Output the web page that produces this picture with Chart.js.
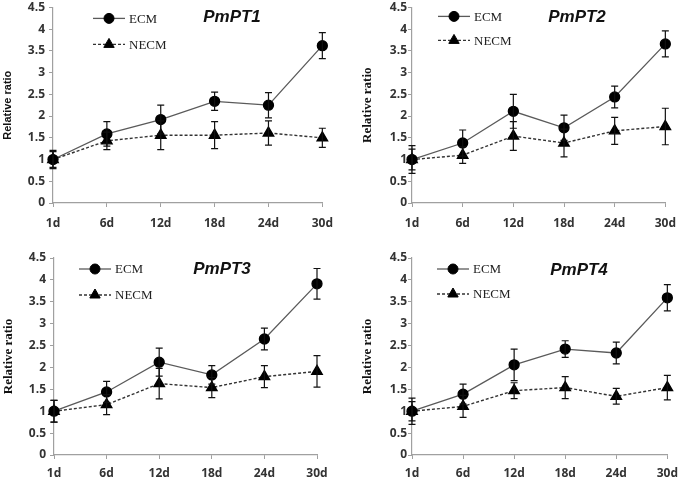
<!DOCTYPE html>
<html lang="en">
<head>
<meta charset="UTF-8">
<title>PmPT1-4 relative expression, ECM vs NECM</title>
<script src="https://cdn.jsdelivr.net/npm/chart.js"></script>
<style>
  *{box-sizing:border-box;margin:0;padding:0}
  body{background:#fff;width:685px;height:483px;position:relative;overflow:hidden}
  .panel{position:absolute}
  #p1{left:0;top:0;width:342px;height:240px}
  #p2{left:342px;top:0;width:343px;height:240px}
  #p3{left:0;top:240px;width:342px;height:243px}
  #p4{left:342px;top:240px;width:343px;height:243px}
</style>
</head>
<body>
<div class="panel" id="p1"><canvas id="c1"></canvas></div>
<div class="panel" id="p2"><canvas id="c2"></canvas></div>
<div class="panel" id="p3"><canvas id="c3"></canvas></div>
<div class="panel" id="p4"><canvas id="c4"></canvas></div>
<script>
// x categories (days after inoculation)
const days = ['1d', '6d', '12d', '18d', '24d', '30d'];
const seriesNames = ['ECM', 'NECM'];

// relative ratio + error
const pt1Ecm     = [1.00, 1.59, 1.92, 2.34, 2.25, 3.62];
const pt1EcmErr  = [0.21, 0.28, 0.33, 0.21, 0.29, 0.30];
const pt1Necm    = [1.00, 1.43, 1.56, 1.56, 1.61, 1.50];
const pt1NecmErr = [0.18, 0.20, 0.33, 0.31, 0.28, 0.22];

const pt2Ecm     = [1.00, 1.38, 2.11, 1.73, 2.44, 3.66];
const pt2EcmErr  = [0.32, 0.30, 0.39, 0.29, 0.25, 0.30];
const pt2Necm    = [1.00, 1.10, 1.54, 1.38, 1.66, 1.76];
const pt2NecmErr = [0.24, 0.19, 0.33, 0.32, 0.31, 0.42];

const pt3Ecm     = [1.00, 1.44, 2.12, 1.83, 2.65, 3.91];
const pt3EcmErr  = [0.25, 0.24, 0.32, 0.21, 0.25, 0.35];
const pt3Necm    = [1.00, 1.15, 1.63, 1.54, 1.79, 1.91];
const pt3NecmErr = [0.25, 0.23, 0.35, 0.23, 0.25, 0.36];

const pt4Ecm     = [1.00, 1.39, 2.06, 2.42, 2.33, 3.59];
const pt4EcmErr  = [0.30, 0.23, 0.36, 0.19, 0.25, 0.30];
const pt4Necm    = [1.00, 1.11, 1.47, 1.54, 1.34, 1.54];
const pt4NecmErr = [0.22, 0.25, 0.18, 0.25, 0.18, 0.28];

const SANS = '"Open Sans", sans-serif';
const SERIF = '"Liberation Serif", serif';

// per-panel layout (pixel offsets measured on the reference)
const panels = [
  {id:'c1', title:'PmPT1', ecm:pt1Ecm, ecmErr:pt1EcmErr, necm:pt1Necm, necmErr:pt1NecmErr,
   padTop:6, padRight:19, yWidth:53, xHeight:37, tickPad:4, xTickPad:9,
   yTitleFont:{family:'"Liberation Sans", sans-serif', size:11, weight:'bold'}, yTitlePad:1,
   legendDx:40, legendDy:[11,37], titleDx:179, titleDy:10},
  {id:'c2', title:'PmPT2', ecm:pt2Ecm, ecmErr:pt2EcmErr, necm:pt2Necm, necmErr:pt2NecmErr,
   padTop:6, padRight:11, yWidth:70, xHeight:37, tickPad:1, xTickPad:9,
   yTitleFont:{family:SERIF, size:13, weight:'bold'}, yTitlePad:18,
   legendDx:26, legendDy:[9,33], titleDx:165, titleDy:10},
  {id:'c3', title:'PmPT3', ecm:pt3Ecm, ecmErr:pt3EcmErr, necm:pt3Necm, necmErr:pt3NecmErr,
   padTop:18, padRight:25, yWidth:54, xHeight:28, tickPad:4, xTickPad:7,
   yTitleFont:{family:SERIF, size:13, weight:'bold'}, yTitlePad:1,
   legendDx:25, legendDy:[11,37], titleDx:168, titleDy:11},
  {id:'c4', title:'PmPT4', ecm:pt4Ecm, ecmErr:pt4EcmErr, necm:pt4Necm, necmErr:pt4NecmErr,
   padTop:18, padRight:13, yWidth:70, xHeight:28, tickPad:1, xTickPad:7,
   yTitleFont:{family:SERIF, size:13, weight:'bold'}, yTitlePad:18,
   legendDx:25, legendDy:[11,36], titleDx:167, titleDy:12}
];

// vertical error bars with caps, drawn on top of the markers
const errorBars = {
  id: 'errorBars',
  afterDatasetsDraw(chart) {
    const {ctx, scales: {x, y}} = chart;
    ctx.save();
    ctx.strokeStyle = '#111';
    ctx.lineWidth = 1.2;
    chart.data.datasets.forEach(ds => {
      ds.data.forEach((v, j) => {
        const e = ds.errors[j];
        const px = x.getPixelForValue(j);
        const hi = y.getPixelForValue(v + e), lo = y.getPixelForValue(v - e);
        ctx.beginPath();
        ctx.moveTo(px, hi); ctx.lineTo(px, lo);
        ctx.moveTo(px - 3.5, hi); ctx.lineTo(px + 3.5, hi);
        ctx.moveTo(px - 3.5, lo); ctx.lineTo(px + 3.5, lo);
        ctx.stroke();
      });
    });
    ctx.restore();
  }
};

// panel title + in-plot legend (line sample with marker)
const panelDecor = {
  id: 'panelDecor',
  afterDraw(chart, args, opts) {
    const {ctx, chartArea: {left, top}} = chart;
    ctx.save();
    ctx.fillStyle = '#111';
    ctx.font = 'italic bold 17px "Liberation Sans", sans-serif';
    ctx.textAlign = 'center';
    ctx.textBaseline = 'middle';
    ctx.fillText(opts.title, left + opts.titleDx, top + opts.titleDy);

    chart.data.datasets.forEach((ds, i) => {
      const yy = top + opts.legendDy[i];
      const x0 = left + opts.legendDx;
      ctx.strokeStyle = ds.borderColor;
      ctx.lineWidth = ds.borderWidth;
      ctx.setLineDash(ds.borderDash || []);
      ctx.beginPath();
      ctx.moveTo(x0, yy); ctx.lineTo(x0 + 32, yy);
      ctx.stroke();
      ctx.setLineDash([]);
      ctx.fillStyle = '#000';
      ctx.strokeStyle = '#000';
      ctx.lineWidth = 1;
      Chart.helpers.drawPoint(ctx, {pointStyle: ds.pointStyle, radius: ds.pointRadius, rotation: 0, borderWidth: 1}, x0 + 16, yy);
      ctx.fillStyle = '#222';
      ctx.font = '13px ' + SERIF;
      ctx.textAlign = 'left';
      ctx.fillText(ds.label, x0 + 36, yy + 1);
    });
    ctx.restore();
  }
};

panels.forEach(p => {
  new Chart(document.getElementById(p.id), {
    type: 'line',
    data: {
      labels: days,
      datasets: [
        {label: seriesNames[0], data: p.ecm, errors: p.ecmErr, borderColor: '#5a5a5a', borderWidth: 1.3,
         pointStyle: 'circle', pointRadius: 5, pointBackgroundColor: '#000', pointBorderColor: '#000',
         tension: 0, clip: false},
        {label: seriesNames[1], data: p.necm, errors: p.necmErr, borderColor: '#333', borderWidth: 1.4,
         borderDash: [3, 2], pointStyle: 'triangle', pointRadius: 6, pointBackgroundColor: '#000',
         pointBorderColor: '#000', tension: 0, clip: false}
      ]
    },
    options: {
      responsive: true,
      maintainAspectRatio: false,
      animation: false,
      layout: {padding: {left: 0, top: p.padTop, right: p.padRight, bottom: 0}},
      plugins: {
        legend: {display: false},
        tooltip: {enabled: false},
        panelDecor: {title: p.title, legendDx: p.legendDx, legendDy: p.legendDy, titleDx: p.titleDx, titleDy: p.titleDy}
      },
      scales: {
        x: {
          offset: false,
          grid: {display: true, drawOnChartArea: false, drawTicks: true, tickLength: 4, color: '#a0a0a0'},
          border: {display: true, color: '#a0a0a0', width: 1.2},
          ticks: {autoSkip: false, maxRotation: 0, padding: p.xTickPad, color: '#333',
                  font: {family: SANS, size: 12, weight: 'bold'}},
          afterFit: s => { s.height = p.xHeight; }
        },
        y: {
          min: 0, max: 4.5,
          grid: {display: true, drawOnChartArea: false, drawTicks: true, tickLength: 4, color: '#a0a0a0'},
          border: {display: true, color: '#a0a0a0', width: 1.2},
          ticks: {stepSize: 0.5, padding: p.tickPad, color: '#333', callback: v => String(v),
                  font: {family: SANS, size: 12, weight: 'bold'}},
          title: {display: true, text: 'Relative ratio', color: '#111', font: p.yTitleFont,
                  padding: {top: p.yTitlePad, bottom: 0}},
          afterFit: s => { s.width = p.yWidth; s.paddingTop = 0; s.paddingBottom = 0; }
        }
      }
    },
    plugins: [errorBars, panelDecor]
  });
});
</script>
</body>
</html>
